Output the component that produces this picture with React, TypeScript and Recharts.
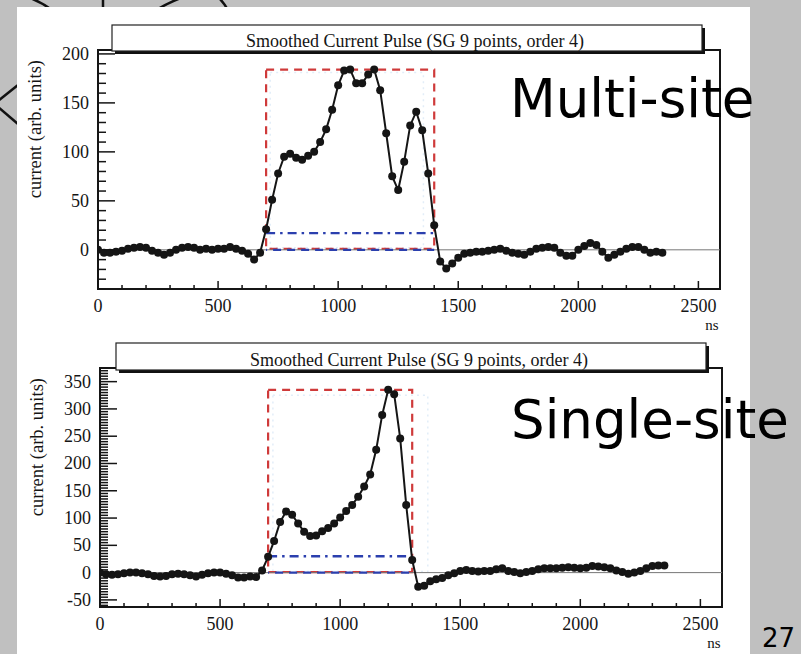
import { LineChart, Line, XAxis, YAxis, ReferenceArea, ReferenceLine } from "recharts";

// sample times (ns), one point every 25 ns
const timeNs = [
  0, 25, 50, 75, 100, 125, 150, 175, 200, 225, 250, 275, 300, 325, 350, 375, 400, 425, 450, 475,
  500, 525, 550, 575, 600, 625, 650, 675, 700, 725, 750, 775, 800, 825, 850, 875, 900, 925, 950, 975,
  1000, 1025, 1050, 1075, 1100, 1125, 1150, 1175, 1200, 1225, 1250, 1275, 1300, 1325, 1350, 1375,
  1400, 1425, 1450, 1475, 1500, 1525, 1550, 1575, 1600, 1625, 1650, 1675, 1700, 1725, 1750, 1775,
  1800, 1825, 1850, 1875, 1900, 1925, 1950, 1975, 2000, 2025, 2050, 2075, 2100, 2125, 2150, 2175,
  2200, 2225, 2250, 2275, 2300, 2325, 2350,
];

// multi-site pulse (arb. units)
const multiSite = [
  0, -3, -3, -2, -1, 1, 2, 3, 2, -1, -3, -5, -3, 0, 2, 3, 2, 0, 1, 0,
  1, 1, 3, 1, -1, -4, -10, -3, 21, 51, 78, 95, 98, 94, 92, 96, 100, 110, 123, 143,
  168, 183, 184, 170, 170, 179, 184, 163, 119, 75, 61, 90, 127, 141, 122, 78,
  25, -12, -19, -14, -8, -4, -3, -2, -2, -1, 0, 1, -1, -3, -4, -5,
  -2, 1, 2, 3, 2, -3, -6, -6, 0, 4, 7, 5, -2, -8, -5, -2,
  1, 3, 3, 0, -3, -2, -3,
];

// single-site pulse (arb. units)
const singleSite = [
  0, -3, -4, -3, -1, 0, 0, -1, -3, -6, -7, -6, -3, -2, -3, -5, -7, -4, -1, 0,
  0, -2, -5, -9, -9, -7, -8, 4, 29, 58, 93, 112, 106, 90, 75, 67, 68, 76, 82, 90,
  101, 113, 124, 139, 158, 180, 225, 289, 335, 327, 246, 124, 23, -26, -24, -16,
  -12, -10, -5, -1, 3, 5, 3, 2, 3, 3, 6, 8, 3, 1, -1, 1,
  3, 6, 8, 8, 8, 9, 10, 9, 8, 9, 12, 11, 10, 8, 4, 1,
  -2, 0, 3, 8, 12, 13, 13,
];

// pulse windows: [start ns, end ns, peak, 10% level]
const multiWindow = [700, 1400, 184, 17];
const singleWindow = [700, 1300, 335, 30];
// faint inner boxes: [start ns, end ns, top]
const multiInner = [717, 1355, 181];
const singleInner = [720, 1365, 325];

const xDomain = [0, 2590];
const xTicks = [
  0, 100, 200, 300, 400, 500, 600, 700, 800, 900, 1000, 1100, 1200, 1300, 1400, 1500, 1600,
  1700, 1800, 1900, 2000, 2100, 2200, 2300, 2400, 2500,
];
const xMajor = [0, 500, 1000, 1500, 2000, 2500];

const multiDomain = [-40, 204];
const multiTicks = [
  -40, -30, -20, -10, 0, 10, 20, 30, 40, 50, 60, 70, 80, 90, 100, 110, 120, 130, 140, 150, 160,
  170, 180, 190, 200,
];
const multiMajor = [0, 50, 100, 150, 200];

const singleDomain = [-63, 375];
const singleMajor = [-50, 0, 50, 100, 150, 200, 250, 300, 350];

const range = (a: number, b: number, s: number) => {
  const out: number[] = [];
  for (let v = a; v <= b; v += s) out.push(v);
  return out;
};
const singleTicks = range(-60, 375, 5);

const TITLE = "Smoothed Current Pulse (SG 9 points, order 4)";
const SERIF = '"Liberation Serif", "Times New Roman", serif';
const SANS = '"DejaVu Sans", Verdana, sans-serif';
const INK = "#151515";

function YTick(props: any) {
  const { x, y, payload, majors } = props;
  const major = majors.includes(payload.value);
  return (
    <g>
      <line x1={x} x2={x + (major ? 17 : 8)} y1={y} y2={y} stroke={INK} strokeWidth={1.5} />
      {major && (
        <text x={x - 9} y={y + 6} textAnchor="end" fontFamily={SERIF} fontSize={18} fill={INK}>
          {payload.value}
        </text>
      )}
    </g>
  );
}

function XTick(props: any) {
  const { x, y, payload } = props;
  const major = xMajor.includes(payload.value);
  return (
    <g>
      <line x1={x} x2={x} y1={y} y2={y - (major ? 8 : 4)} stroke={INK} strokeWidth={1.5} />
      {major && (
        <text x={x} y={y + 23} textAnchor="middle" fontFamily={SERIF} fontSize={18} fill={INK}>
          {payload.value}
        </text>
      )}
    </g>
  );
}

function YTitle(props: any) {
  const vb = props.viewBox;
  const cx = vb.x - 3;
  const ty = vb.y + 10;
  return (
    <text
      x={cx}
      y={ty}
      transform={`rotate(-90, ${cx}, ${ty})`}
      textAnchor="end"
      dominantBaseline="central"
      fontFamily={SERIF}
      fontSize={18.5}
      fill={INK}
    >
      current (arb. units)
    </text>
  );
}

function NsLabel(props: any) {
  const vb = props.viewBox;
  return (
    <text x={vb.x + vb.width - 8} y={vb.y + 41} textAnchor="middle" fontFamily={SERIF} fontSize={15} fill={INK}>
      ns
    </text>
  );
}

function PulsePanel(props: any) {
  const { top, left, right, values, yDomain, yTicks, yMajor, win, inner } = props;
  const [start, end, peak, level] = win;
  const data = timeNs.map((t, i) => ({ t, current: values[i] }));
  return (
    <div style={{ position: "absolute", left: 0, top }}>
      <LineChart width={801} height={340} data={data} margin={{ top: 50, right, left, bottom: 21 }}>
        <XAxis
          dataKey="t"
          type="number"
          domain={xDomain}
          ticks={xTicks}
          interval={0}
          allowDataOverflow
          axisLine={false}
          tickLine={false}
          tickSize={0}
          tickMargin={0}
          height={30}
          tick={(p: any) => <XTick {...p} />}
          label={{ content: (p: any) => <NsLabel {...p} /> }}
        />
        <YAxis
          type="number"
          domain={yDomain}
          ticks={yTicks}
          interval={0}
          allowDataOverflow
          axisLine={false}
          tickLine={false}
          tickSize={0}
          tickMargin={0}
          width={60}
          tick={(p: any) => <YTick {...p} majors={yMajor} />}
          label={{ content: (p: any) => <YTitle {...p} /> }}
        />
        <ReferenceLine y={0} stroke="#777" strokeWidth={1} ifOverflow="visible" />
        <ReferenceArea
          x1={inner[0]}
          x2={inner[1]}
          y1={2}
          y2={inner[2]}
          fill="none"
          stroke="#e2edf8"
          strokeWidth={1.5}
          strokeDasharray="2 4"
          ifOverflow="visible"
        />
        <ReferenceArea
          x1={start}
          x2={end}
          y1={1}
          y2={peak}
          fill="none"
          stroke="#cf3a3a"
          strokeWidth={2.2}
          strokeDasharray="8 6"
          ifOverflow="visible"
        />
        <ReferenceLine
          segment={[{ x: start, y: 0 }, { x: end, y: 0 }]}
          stroke="#2b3fae"
          strokeWidth={2.2}
          strokeDasharray="8 6"
          strokeDashoffset={7}
          ifOverflow="visible"
        />
        <ReferenceLine
          segment={[{ x: start, y: level }, { x: end, y: level }]}
          stroke="#2b3fae"
          strokeWidth={2.4}
          strokeDasharray="9 5 2.5 5"
          ifOverflow="visible"
        />
        <Line
          dataKey="current"
          type="linear"
          stroke={INK}
          strokeWidth={2}
          dot={{ r: 4, fill: INK, stroke: INK, strokeWidth: 0 }}
          isAnimationActive={false}
        />
        <ReferenceArea
          x1={xDomain[0]}
          x2={xDomain[1]}
          y1={yDomain[0]}
          y2={yDomain[1]}
          fill="none"
          stroke={INK}
          strokeWidth={2}
          ifOverflow="visible"
        />
      </LineChart>
    </div>
  );
}

function TitleBox({ x, y, w, h }: { x: number; y: number; w: number; h: number }) {
  return (
    <g>
      <rect x={x + 3} y={y + 3} width={w} height={h} fill="#111" />
      <rect x={x} y={y} width={w} height={h} fill="#fff" stroke="#222" strokeWidth={1.2} />
      <text x={x + w / 2 + 8} y={y + h - 4} textAnchor="middle" fontFamily={SERIF} fontSize={18} fill={INK}>
        {TITLE}
      </text>
    </g>
  );
}

export default function App() {
  return (
    <div
      style={{
        position: "fixed",
        left: 0,
        top: 0,
        width: 801,
        height: 654,
        overflow: "hidden",
        background: "#c0c0c0",
      }}
    >
      <svg width={801} height={654} style={{ position: "absolute", left: 0, top: 0 }}>
        <g stroke="#111" strokeWidth={2.5} fill="none">
          <path d="M30 -2 Q41 2 52 10" />
          <path d="M103 -2 L103 10" />
          <path d="M181 -2 Q170 2 156 10" />
          <path d="M219 -2 Q224 3 228 10" />
          <path d="M18 85 L-2 101" />
          <path d="M-2 107 L18 124" />
        </g>
      </svg>
      <div style={{ position: "absolute", left: 17, top: 7, width: 733, height: 660, background: "#fff" }} />
      <PulsePanel
        top={0}
        left={38}
        right={81}
        values={multiSite}
        yDomain={multiDomain}
        yTicks={multiTicks}
        yMajor={multiMajor}
        win={multiWindow}
        inner={multiInner}
      />
      <PulsePanel
        top={318}
        left={40}
        right={79}
        values={singleSite}
        yDomain={singleDomain}
        yTicks={singleTicks}
        yMajor={singleMajor}
        win={singleWindow}
        inner={singleInner}
      />
      <svg width={801} height={654} style={{ position: "absolute", left: 0, top: 0, pointerEvents: "none" }}>
        <TitleBox x={112} y={25} w={590} h={26} />
        <TitleBox x={116} y={343} w={590} h={27} />
        <text x={510} y={117} fontFamily={SANS} fontSize={53} fill="#000">
          Multi-site
        </text>
        <text x={511} y={438} fontFamily={SANS} fontSize={53} fill="#000">
          Single-site
        </text>
        <text x={762} y={647} fontFamily={SANS} fontSize={26} fill="#000">
          27
        </text>
      </svg>
    </div>
  );
}
